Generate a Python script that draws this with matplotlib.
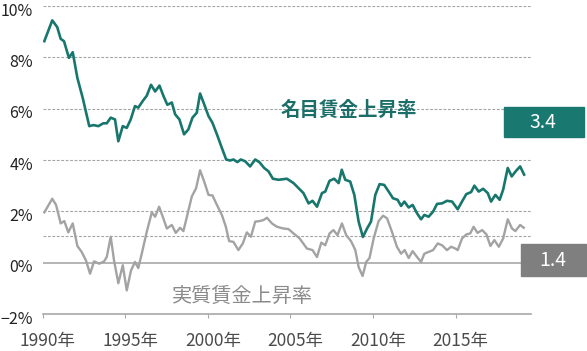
import matplotlib
matplotlib.use("Agg")
import matplotlib.pyplot as plt
import matplotlib.transforms as mtransforms
from matplotlib.patches import Rectangle

plt.rcParams['font.family'] = ['Noto Sans CJK JP', 'DejaVu Sans']

# nominal wage growth (%)
nominal_years = [1990.10, 1990.58, 1990.88, 1991.09, 1991.29, 1991.59, 1991.82, 1992.10, 1992.42, 1992.82,
                 1993.07, 1993.37, 1993.67, 1993.88, 1994.12, 1994.38, 1994.58, 1994.85, 1995.09, 1995.33,
                 1995.59, 1995.79, 1996.06, 1996.30, 1996.56, 1996.81, 1997.07, 1997.31, 1997.55, 1997.82,
                 1998.02, 1998.28, 1998.56, 1998.82, 1999.07, 1999.33, 1999.53, 1999.78, 2000.04, 2000.28,
                 2000.55, 2000.85, 2001.11, 2001.35, 2001.55, 2001.79, 2002.00, 2002.26, 2002.56, 2002.87,
                 2003.13, 2003.41, 2003.67, 2003.94, 2004.28, 2004.79, 2005.19, 2005.79, 2006.10, 2006.34,
                 2006.61, 2006.91, 2007.11, 2007.37, 2007.65, 2007.92, 2008.11, 2008.32, 2008.62, 2008.87,
                 2009.13, 2009.39, 2009.64, 2009.88, 2010.14, 2010.40, 2010.68, 2010.95, 2011.21, 2011.49,
                 2011.70, 2011.90, 2012.16, 2012.40, 2012.67, 2012.91, 2013.11, 2013.37, 2013.64, 2013.88,
                 2014.18, 2014.48, 2014.79, 2015.13, 2015.39, 2015.65, 2015.94, 2016.14, 2016.40, 2016.67,
                 2016.95, 2017.15, 2017.41, 2017.67, 2017.88, 2018.16, 2018.40, 2018.64, 2018.91, 2019.15]
nominal = [8.63, 9.44, 9.18, 8.72, 8.63, 7.98, 8.20, 7.20, 6.43, 5.32,
           5.36, 5.32, 5.43, 5.43, 5.65, 5.58, 4.73, 5.32, 5.25, 5.58,
           6.10, 6.04, 6.30, 6.50, 6.93, 6.67, 6.90, 6.50, 6.15, 6.24,
           5.78, 5.58, 5.00, 5.19, 5.65, 5.84, 6.59, 6.17, 5.71, 5.45,
           5.00, 4.47, 4.02, 3.98, 4.02, 3.92, 4.02, 3.95, 3.75, 4.02,
           3.91, 3.69, 3.56, 3.27, 3.23, 3.27, 3.10, 2.71, 2.31, 2.41,
           2.18, 2.71, 2.77, 3.19, 3.27, 3.10, 3.62, 3.23, 3.16, 2.64,
           1.60, 1.00, 1.33, 1.60, 2.64, 3.06, 3.03, 2.77, 2.51, 2.45,
           2.21, 2.38, 2.15, 2.25, 1.92, 1.69, 1.86, 1.79, 1.99, 2.29,
           2.31, 2.41, 2.38, 2.08, 2.38, 2.67, 2.75, 3.00, 2.77, 2.88,
           2.71, 2.38, 2.64, 2.45, 2.84, 3.69, 3.36, 3.56, 3.75, 3.43]

# real wage growth (%)
real_years = [1990.10, 1990.58, 1990.81, 1991.09, 1991.31, 1991.55, 1991.82, 1992.10, 1992.36, 1992.62,
              1992.87, 1993.11, 1993.43, 1993.72, 1993.88, 1994.12, 1994.32, 1994.58, 1994.85, 1995.09,
              1995.35, 1995.59, 1995.79, 1996.00, 1996.30, 1996.61, 1996.81, 1997.05, 1997.27, 1997.52,
              1997.82, 1998.06, 1998.32, 1998.52, 1998.76, 1999.03, 1999.29, 1999.53, 1999.78, 2000.04,
              2000.28, 2000.55, 2000.85, 2001.09, 2001.29, 2001.55, 2001.85, 2002.12, 2002.36, 2002.61,
              2002.87, 2003.13, 2003.37, 2003.58, 2003.88, 2004.18, 2004.58, 2004.88, 2005.19, 2005.55,
              2006.00, 2006.34, 2006.61, 2006.87, 2007.11, 2007.37, 2007.61, 2007.85, 2008.12, 2008.38,
              2008.67, 2008.93, 2009.13, 2009.37, 2009.59, 2009.79, 2010.04, 2010.34, 2010.61, 2010.85,
              2011.15, 2011.45, 2011.70, 2011.92, 2012.16, 2012.40, 2012.67, 2012.91, 2013.11, 2013.37,
              2013.64, 2013.92, 2014.18, 2014.48, 2014.73, 2014.99, 2015.13, 2015.39, 2015.65, 2015.89,
              2016.09, 2016.33, 2016.61, 2016.87, 2017.11, 2017.35, 2017.62, 2017.88, 2018.16, 2018.42,
              2018.62, 2018.91, 2019.13]
real = [1.96, 2.49, 2.25, 1.53, 1.62, 1.18, 1.53, 0.65, 0.42, 0.09,
        -0.43, 0.05, -0.04, 0.05, 0.22, 1.01, 0.09, -0.80, -0.10, -1.08,
        -0.30, 0.03, -0.21, 0.35, 1.20, 1.96, 1.79, 2.18, 1.79, 1.33,
        1.47, 1.16, 1.36, 1.23, 1.86, 2.58, 2.90, 3.60, 3.16, 2.64,
        2.62, 2.25, 1.86, 1.40, 0.84, 0.81, 0.49, 0.75, 1.18, 1.01,
        1.60, 1.62, 1.66, 1.75, 1.53, 1.40, 1.33, 1.31, 1.14, 0.95,
        0.55, 0.49, 0.22, 0.78, 0.68, 1.14, 1.27, 1.07, 1.53, 1.07,
        0.84, 0.49, -0.17, -0.52, 0.03, 0.18, 0.94, 1.62, 1.83, 1.73,
        1.20, 0.62, 0.35, 0.49, 0.18, 0.45, 0.22, 0.03, 0.35, 0.42,
        0.49, 0.75, 0.68, 0.49, 0.62, 0.55, 0.49, 0.94, 1.10, 1.14,
        1.40, 1.16, 1.27, 1.10, 0.65, 0.88, 0.62, 0.94, 1.69, 1.33,
        1.23, 1.47, 1.36]

x_ticks = [1990, 1995, 2000, 2005, 2010, 2015]
x_labels = ["1990年", "1995年", "2000年", "2005年", "2010年", "2015年"]
y_ticks = [-2, 0, 2, 4, 6, 8, 10]
y_labels = ["−2%", "0%", "2%", "4%", "6%", "8%", "10%"]
ref_level = 1.05

teal = "#18776d"
grey_line = "#a3a3a3"

fig = plt.figure(figsize=(5.87, 3.51), dpi=100)
ax = fig.add_axes([0.0727, 0.1054, 0.8314, 0.8775])

for y in [2, 4, 6, 8, 10, ref_level]:
    ax.axhline(y, color="#a4a4a4", lw=0.8, ls=(0, (2.5, 1.5)), zorder=2)
ax.axhline(0, color="#a8a8a8", lw=1.2, zorder=2)

ax.plot(real_years, real, color=grey_line, lw=1.7, zorder=3)
ax.plot(nominal_years, nominal, color=teal, lw=1.9, zorder=4)

ax.set_xlim(1990, 2019.55)
ax.set_ylim(-2, 10)

for s in ["top", "right", "left"]:
    ax.spines[s].set_visible(False)
ax.spines["bottom"].set_color("#a8a8a8")
ax.spines["bottom"].set_linewidth(1.2)

ax.set_xticks(x_ticks)
ax.set_xticklabels(x_labels, fontsize=12.5, color="#4a4a4a")
ax.tick_params(axis="x", length=3, color="#a8a8a8", pad=10)
off = mtransforms.ScaledTranslation(5 / 100, 0, fig.dpi_scale_trans)
for lab in ax.get_xticklabels():
    lab.set_transform(lab.get_transform() + off)

ax.set_yticks(y_ticks)
ax.set_yticklabels(y_labels, fontsize=11.5, color="#222222")
ax.tick_params(axis="y", length=0, pad=7)
yoff = mtransforms.ScaledTranslation(0, -3 / 100, fig.dpi_scale_trans)
for lab in ax.get_yticklabels():
    lab.set_transform(lab.get_transform() + yoff)

ax.text(2004.38, 5.95, "名目賃金上昇率", color="#1c6f69", fontsize=14,
        fontweight="bold", ha="left", va="center")
ax.text(1997.85, -1.32, "実質賃金上昇率", color="#8a8a8a", fontsize=14.5,
        ha="left", va="center")

# end value boxes
W, H = 587, 351
fig.patches.append(Rectangle((504 / W, 1 - 137 / H), 80 / W, 30 / H,
                             transform=fig.transFigure, color="#197870", zorder=5))
fig.text(543 / W, 1 - 122 / H, "3.4", color="white", fontsize=14, zorder=6,
         ha="center", va="center")
fig.patches.append(Rectangle((521 / W, 1 - 276 / H), 65 / W, 32 / H,
                             transform=fig.transFigure, color="#7f7f7f", zorder=5))
fig.text(553 / W, 1 - 260 / H, "1.4", color="white", fontsize=14, zorder=6,
         ha="center", va="center")

fig.savefig("out.png", dpi=100)
